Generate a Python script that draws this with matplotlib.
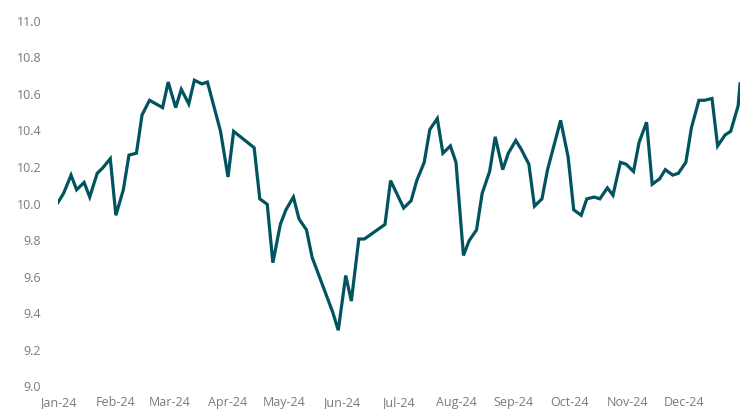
import matplotlib
matplotlib.use("Agg")
import matplotlib.pyplot as plt
import matplotlib.dates as mdates
import numpy as np
import pandas as pd

dates = [
    "2024-01-01", "2024-01-04", "2024-01-08", "2024-01-11", "2024-01-15", "2024-01-18",
    "2024-01-22", "2024-01-25", "2024-01-29", "2024-02-01", "2024-02-05", "2024-02-08",
    "2024-02-12", "2024-02-15", "2024-02-19", "2024-02-26", "2024-02-29", "2024-03-04",
    "2024-03-07", "2024-03-11", "2024-03-14", "2024-03-18", "2024-03-21", "2024-03-28",
    "2024-04-01", "2024-04-04", "2024-04-15", "2024-04-18", "2024-04-22", "2024-04-25",
    "2024-04-29", "2024-05-02", "2024-05-06", "2024-05-09", "2024-05-13", "2024-05-16",
    "2024-05-27", "2024-05-30", "2024-06-03", "2024-06-06", "2024-06-10", "2024-06-13",
    "2024-06-24", "2024-06-27", "2024-07-04", "2024-07-08", "2024-07-11", "2024-07-15",
    "2024-07-18", "2024-07-22", "2024-07-25", "2024-07-29", "2024-08-01", "2024-08-05",
    "2024-08-08", "2024-08-12", "2024-08-15", "2024-08-19", "2024-08-22", "2024-08-26",
    "2024-08-29", "2024-09-02", "2024-09-05", "2024-09-09", "2024-09-12", "2024-09-16",
    "2024-09-19", "2024-09-26", "2024-09-30", "2024-10-03", "2024-10-07", "2024-10-10",
    "2024-10-14", "2024-10-17", "2024-10-21", "2024-10-24", "2024-10-28", "2024-10-31",
    "2024-11-04", "2024-11-07", "2024-11-11", "2024-11-14", "2024-11-18", "2024-11-21",
    "2024-11-25", "2024-11-28", "2024-12-02", "2024-12-05", "2024-12-09", "2024-12-12",
    "2024-12-16", "2024-12-19", "2024-12-23", "2024-12-26", "2024-12-30", "2024-12-31",
]

values = [
    10.00, 10.05, 10.15, 10.07, 10.11, 10.03,
    10.16, 10.19, 10.24, 9.93, 10.07, 10.26,
    10.27, 10.48, 10.56, 10.52, 10.66, 10.52,
    10.62, 10.54, 10.67, 10.65, 10.66, 10.39,
    10.14, 10.39, 10.30, 10.02, 9.99, 9.67,
    9.88, 9.96, 10.03, 9.91, 9.85, 9.70,
    9.40, 9.30, 9.60, 9.46, 9.80, 9.80,
    9.88, 10.12, 9.97, 10.01, 10.12, 10.22,
    10.40, 10.46, 10.27, 10.31, 10.22, 9.71,
    9.79, 9.85, 10.05, 10.17, 10.36, 10.18,
    10.27, 10.34, 10.29, 10.21, 9.98, 10.02,
    10.18, 10.45, 10.25, 9.96, 9.93, 10.02,
    10.03, 10.02, 10.08, 10.04, 10.22, 10.21,
    10.17, 10.33, 10.44, 10.10, 10.13, 10.18,
    10.15, 10.16, 10.22, 10.41, 10.56, 10.56,
    10.57, 10.31, 10.37, 10.39, 10.53, 10.65,
]

month_ticks = pd.date_range("2024-01-01", "2024-12-01", freq="MS")
y_ticks = np.arange(9.0, 11.01, 0.2)

LINE = "#00535f"
GREY = "#7a7a7a"

plt.rcParams["font.family"] = ["Open Sans", "DejaVu Sans"]

fig = plt.figure(figsize=(7.43, 4.10), dpi=100)
ax = fig.add_axes([0.078, 0.0585, 0.918, 0.8903])

ax.plot(pd.to_datetime(dates), values, color=LINE, lw=2.3, solid_joinstyle="miter")

ax.set_ylim(9.0, 11.0)
ax.set_yticks(y_ticks)
ax.set_yticklabels([f"{v:.1f}" for v in y_ticks])
ax.set_xlim(pd.Timestamp("2024-01-01"), pd.Timestamp("2024-12-31"))
ax.set_xticks(month_ticks)
ax.xaxis.set_major_formatter(mdates.DateFormatter("%b-%y"))

for s in ax.spines.values():
    s.set_visible(False)
ax.tick_params(axis="both", length=0, labelsize=9, labelcolor=GREY)
ax.tick_params(axis="y", pad=12)
ax.tick_params(axis="x", pad=7)

fig.savefig("out.png", dpi=100)
